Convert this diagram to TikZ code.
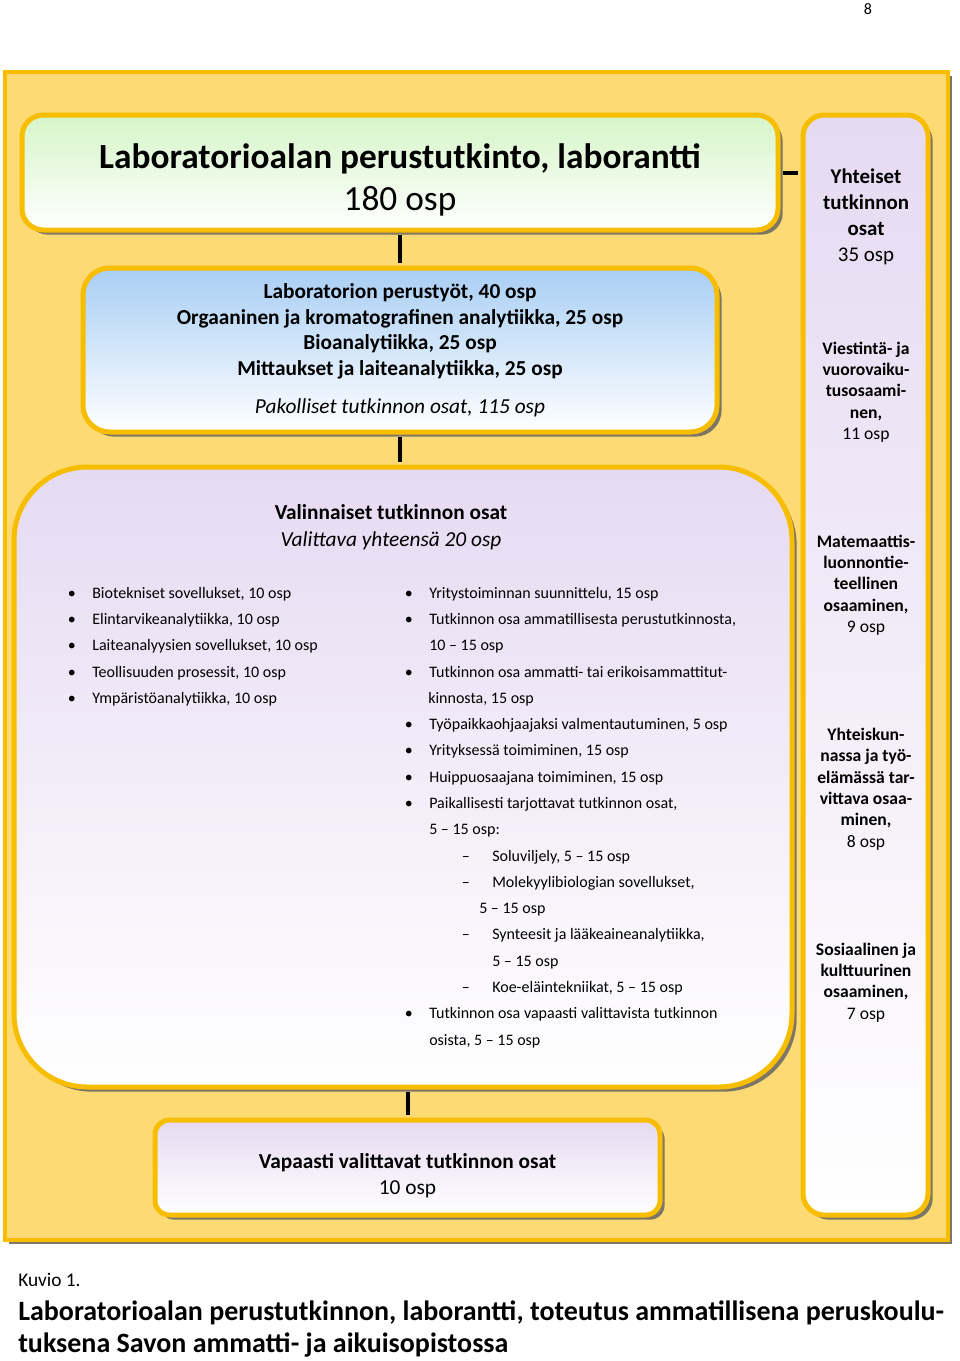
\documentclass[tikz,border=0pt]{standalone}
\usepackage{fontspec}
\setmainfont{Carlito}
\usetikzlibrary{shadows}

\definecolor{frameyellow}{RGB}{253,218,115}
\definecolor{gold}{RGB}{247,190,0}
\definecolor{shade}{RGB}{125,117,102}
\definecolor{mint}{RGB}{214,245,200}
\definecolor{sky}{RGB}{168,206,244}
\definecolor{lilac}{RGB}{230,218,242}

\newcommand{\itm}[1]{\makebox[18.4pt][l]{\textbullet}#1}
\newcommand{\subitm}[1]{\makebox[22.9pt][l]{–}#1}

\begin{document}
\begin{tikzpicture}[x=0.75pt, y=-0.75pt,
    box/.style = {draw=gold, line width=3.75pt, align=center,
        drop shadow={shadow xshift=3.5pt, shadow yshift=-3.5pt,
        fill=shade, opacity=1}},
    link/.style = {line width=3pt, black, shorten <=1.9pt, shorten >=1.9pt},
    item/.style = {anchor=base west, inner sep=0pt,
        font=\fontsize{12}{14}\selectfont},
    side/.style = {align=center, font=\fontsize{13.2}{16}\selectfont}]
  \useasboundingbox (0,0) rectangle (960,1361);
  % frame
  \draw[draw=gold, line width=3pt, fill=frameyellow,
      drop shadow={shadow xshift=3pt, shadow yshift=-3pt, fill=shade, opacity=1}]
      (5,72) rectangle (948,1240);
  \node (page) [anchor=base, font=\fontsize{12}{14}\selectfont] at (868,14) {8};
  % boxes
  \node (degree) [box, minimum width=567pt, minimum height=86.25pt,
      rounded corners=16pt, top color=mint, bottom color=white,
      text height=62pt, font=\fontsize{26.5}{32}\selectfont] at (400,172.5)
      {\textbf{Laboratorioalan perustutkinto, laborantti}\\180 osp};
  \node (core) [box, minimum width=475.5pt, minimum height=123pt,
      rounded corners=20pt, top color=sky, bottom color=white,
      font=\fontsize{16}{19.3}\selectfont] at (400,350)
      {\textbf{Laboratorion perustyöt, 40 osp}\\
       \textbf{Orgaaninen ja kromatografinen analytiikka, 25 osp}\\
       \textbf{Bioanalytiikka, 25 osp}\\
       \textbf{Mittaukset ja laiteanalytiikka, 25 osp}\\[9pt]
       \textit{Pakolliset tutkinnon osat, 115 osp}};
  \node (elective) [box, minimum width=583.5pt, minimum height=465pt,
      rounded corners=55pt, top color=lilac, bottom color=white] at (403,777) {};
  \node (free) [box, minimum width=378.75pt, minimum height=71.25pt,
      rounded corners=11pt, top color=lilac, bottom color=white,
      text height=43pt, font=\fontsize{16}{19.5}\selectfont] at (407.5,1167.5)
      {\textbf{Vapaasti valittavat tutkinnon osat}\\10 osp};
  \node (common) [box, minimum width=93.75pt, minimum height=825pt,
      rounded corners=16pt, top color=lilac, bottom color=white] at (865.5,665) {};
  % connectors
  \draw[link] (degree.south) -- (core.north);
  \draw[link] (core.south) -- (core.south |- elective.north);
  \draw[link] (free.north) -- (free.north |- elective.south);
  \draw[link] (degree.east) -- (degree.east -| common.west);
  % elective parts
  \node (optitle) [align=center, font=\fontsize{16}{20}\selectfont] at (391,527)
      {\textbf{Valinnaiset tutkinnon osat}\\\textit{Valittava yhteensä 20 osp}};
  \node (bio) [item] at (67.5,598) {\itm{Biotekniset sovellukset, 10 osp}};
  \node (food) [item] at (67.5,624) {\itm{Elintarvikeanalytiikka, 10 osp}};
  \node (instr) [item] at (67.5,650) {\itm{Laiteanalyysien sovellukset, 10 osp}};
  \node (proc) [item] at (67.5,677) {\itm{Teollisuuden prosessit, 10 osp}};
  \node (env) [item] at (67.5,703) {\itm{Ympäristöanalytiikka, 10 osp}};
  \node (firm) [item] at (404.5,598) {\itm{Yritystoiminnan suunnittelu, 15 osp}};
  \node (basic) [item] at (404.5,624) {\itm{Tutkinnon osa ammatillisesta perustutkinnosta,}};
  \node (basic2) [item] at (429,650) {10 – 15 osp};
  \node (spec) [item] at (404.5,677) {\itm{Tutkinnon osa ammatti- tai erikoisammattitut-}};
  \node (spec2) [item] at (428,703) {kinnosta, 15 osp};
  \node (coach) [item] at (404.5,729) {\itm{Työpaikkaohjaajaksi valmentautuminen, 5 osp}};
  \node (company) [item] at (404.5,755) {\itm{Yrityksessä toimiminen, 15 osp}};
  \node (top) [item] at (404.5,782) {\itm{Huippuosaajana toimiminen, 15 osp}};
  \node (local) [item] at (404.5,808) {\itm{Paikallisesti tarjottavat tutkinnon osat,}};
  \node (local2) [item] at (429,834) {5 – 15 osp:};
  \node (cell) [item] at (461.5,861) {\subitm{Soluviljely, 5 – 15 osp}};
  \node (molbio) [item] at (461.5,887) {\subitm{Molekyylibiologian sovellukset,}};
  \node (molbio2) [item] at (479,913) {5 – 15 osp};
  \node (synth) [item] at (461.5,939) {\subitm{Synteesit ja lääkeaineanalytiikka,}};
  \node (synth2) [item] at (492,966) {5 – 15 osp};
  \node (animal) [item] at (461.5,992) {\subitm{Koe-eläintekniikat, 5 – 15 osp}};
  \node (any) [item] at (404.5,1018) {\itm{Tutkinnon osa vapaasti valittavista tutkinnon}};
  \node (any2) [item] at (429,1045) {osista, 5 – 15 osp};
  % common parts
  \node (cmnhead) [align=center, font=\fontsize{15.7}{19.5}\selectfont] at (866,217)
      {\textbf{Yhteiset}\\\textbf{tutkinnon}\\\textbf{osat}\\35 osp};
  \node (comm) [side] at (866,392)
      {\textbf{Viestintä- ja}\\\textbf{vuorovaiku-}\\\textbf{tusosaami-}\\\textbf{nen,}\\11 osp};
  \node (math) [side] at (866,585)
      {\textbf{Matemaattis-}\\\textbf{luonnontie-}\\\textbf{teellinen}\\\textbf{osaaminen,}\\9 osp};
  \node (work) [side] at (866,789)
      {\textbf{Yhteiskun-}\\\textbf{nassa ja työ-}\\\textbf{elämässä tar-}\\\textbf{vittava osaa-}\\\textbf{minen,}\\8 osp};
  \node (cult) [side] at (866,982.5)
      {\textbf{Sosiaalinen ja}\\\textbf{kulttuurinen}\\\textbf{osaaminen,}\\7 osp};
  % caption
  \node (kuvio) [anchor=base west, inner sep=0pt, font=\fontsize{14.5}{16}\selectfont]
      at (18,1286) {Kuvio 1.};
  \node (caption) [anchor=base west, inner sep=0pt, font=\fontsize{21}{24}\selectfont\bfseries]
      at (18,1320) {Laboratorioalan perustutkinnon, laborantti, toteutus ammatillisena peruskoulu-};
  \node (caption2) [anchor=base west, inner sep=0pt, font=\fontsize{21}{24}\selectfont\bfseries]
      at (18,1352) {tuksena Savon ammatti- ja aikuisopistossa};
\end{tikzpicture}
\end{document}
